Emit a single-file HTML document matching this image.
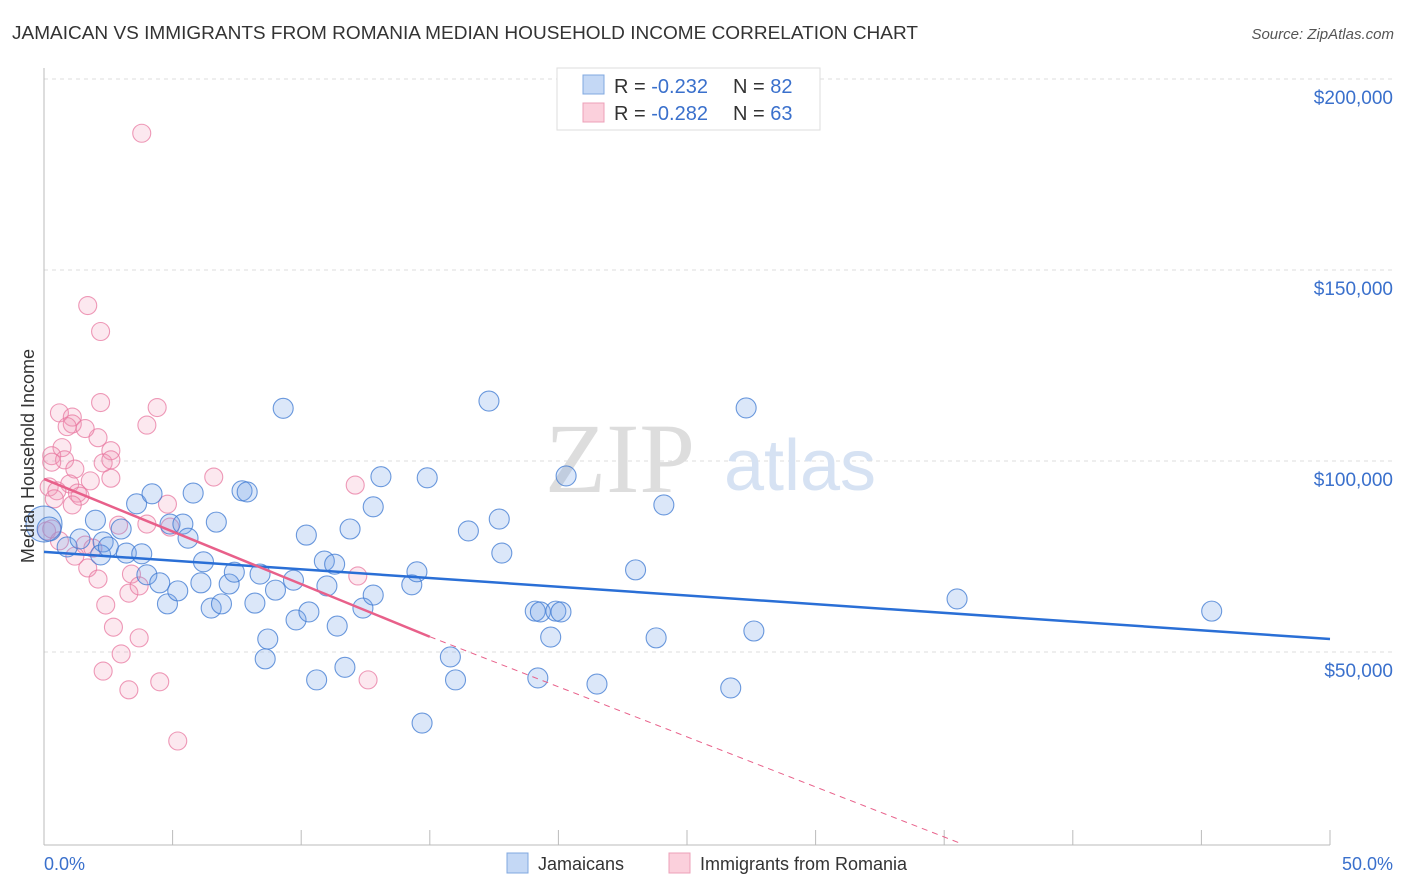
<!DOCTYPE html>
<html><head><meta charset="utf-8"><style>
body{margin:0;background:#fff;font-family:"Liberation Sans",sans-serif;}
svg{display:block}
</style></head><body>
<svg width="1406" height="892">
<text x="12" y="39" font-size="18" fill="#333" textLength="906" lengthAdjust="spacingAndGlyphs">JAMAICAN VS IMMIGRANTS FROM ROMANIA MEDIAN HOUSEHOLD INCOME CORRELATION CHART</text>
<text x="1394" y="39" font-size="15" fill="#555" font-style="italic" text-anchor="end">Source: ZipAtlas.com</text>
<g id="grid"></g>
<line x1="44" y1="68" x2="44" y2="845" stroke="#bbb"/>
<line x1="44" y1="845" x2="1330" y2="845" stroke="#bbb"/>
<text x="620" y="492" font-size="100" fill="#ddd" font-family="Liberation Serif" text-anchor="middle">ZIP</text>
<text x="800" y="490" font-size="72" fill="#d6e2f3" text-anchor="middle">atlas</text>
<g id="ticks"></g>
<g id="pts"></g>
<g id="lines"></g>
<text x="34" y="456" font-size="18" fill="#333" text-anchor="middle" transform="rotate(-90 34 456)">Median Household Income</text>
<text x="44" y="870" font-size="18" fill="#3a70cc">0.0%</text>
<text x="1393" y="870" font-size="18" fill="#3a70cc" text-anchor="end">50.0%</text>
<g>
<rect x="557" y="68" width="263" height="62" fill="#fff" stroke="#ddd"/>
<rect x="583" y="75" width="21" height="19" fill="#c4d8f5" stroke="#80a8e0"/>
<rect x="583" y="103" width="21" height="19" fill="#fbd0dc" stroke="#eda0b8"/>
<text x="614" y="93" font-size="20" fill="#333">R = <tspan fill="#3a70cc">-0.232</tspan><tspan x="733">N = </tspan><tspan fill="#3a70cc">82</tspan></text>
<text x="614" y="120" font-size="20" fill="#333">R = <tspan fill="#3a70cc">-0.282</tspan><tspan x="733">N = </tspan><tspan fill="#3a70cc">63</tspan></text>
</g>
<g>
<rect x="507" y="853" width="21" height="20" fill="#c4d8f5" stroke="#80a8e0"/>
<text x="538" y="870" font-size="18" fill="#333">Jamaicans</text>
<rect x="669" y="853" width="21" height="20" fill="#fbd0dc" stroke="#eda0b8"/>
<text x="700" y="870" font-size="18" fill="#333">Immigrants from Romania</text>
</g>
</svg>
<script>
const yTicks=[50000,100000,150000,200000];
const yTickLabels=["$50,000","$100,000","$150,000","$200,000"];
const xTicks=[0,5,10,15,20,25,30,35,40,45,50];
const jamX=[0,0.2,0.9,2.0,1.4,2.3,2.2,2.5,3.0,3.2,3.8,3.6,4.2,4.0,4.5,4.8,5.2,4.9,5.4,5.6,5.8,6.1,6.2,6.5,6.7,6.9,7.2,7.4,7.7,7.9,8.2,8.4,8.6,8.7,9.0,9.3,9.7,9.8,10.2,10.3,10.6,10.9,11.0,11.3,11.4,11.7,11.9,12.4,12.8,12.8,13.1,14.3,14.5,14.7,14.9,15.8,16.0,16.5,17.3,17.7,17.8,19.1,19.2,19.3,19.7,19.9,20.1,20.3,21.5,23.0,23.8,24.1,26.7,27.3,27.6,35.5,45.4];
const jamY=[83.5,82.2,77.5,84.5,79.6,78.8,75.4,77.5,82.2,75.9,75.7,88.8,91.4,70.2,68.1,62.6,66.0,83.5,83.5,79.8,91.6,68.1,73.6,61.5,84.0,62.6,67.8,70.9,92.2,91.9,62.8,70.4,48.2,53.4,66.2,113.8,68.8,58.4,80.6,60.5,42.7,73.8,67.3,73.0,56.8,46.0,82.2,61.5,64.9,88.0,95.9,67.6,71.0,31.4,95.6,48.7,42.7,81.7,115.7,84.8,75.9,60.7,43.2,60.5,53.9,60.7,60.5,96.1,41.6,71.5,53.7,88.5,40.6,113.9,55.5,63.9,60.7];
const jamR=[18,12,10,10,10,10,10,10,10,10,10,10,10,10,10,10,10,10,10,10,10,10,10,10,10,10,10,10,10,10,10,10,10,10,10,10,10,10,10,10,10,10,10,10,10,10,10,10,10,10,10,10,10,10,10,10,10,10,10,10,10,10,10,10,10,10,10,10,10,10,10,10,10,10,10,10,10];
const romX=[3.8,1.7,2.2,2.2,4.4,0.6,1.1,1.1,0.9,4.0,0.7,0.3,2.6,2.1,1.6,0.8,0.3,2.3,2.6,1.2,6.6,2.6,1.8,0.2,1.0,0.5,1.3,1.4,0.4,1.1,4.8,12.1,2.9,4.0,0.1,0.3,4.9,0.6,1.6,1.9,1.2,1.7,3.4,2.1,3.3,3.7,2.4,2.7,3.0,2.3,3.3,4.5,3.7,12.2,12.6,5.2];
const romY=[185.8,140.7,133.9,115.3,114.0,112.6,111.5,109.7,109.0,109.4,103.5,101.4,102.7,106.1,108.5,100.3,99.7,99.5,100.3,97.9,95.8,95.5,94.8,93.2,94.0,92.2,91.6,90.8,90.1,88.5,88.7,93.7,83.2,83.5,81.7,82.2,82.7,79.1,78.0,77.2,75.1,72.0,70.4,69.1,65.4,67.3,62.3,56.5,49.5,45.0,40.1,42.2,53.7,69.9,42.7,26.7];
const jamFit=[76.2,53.4], romFit=[95.3,54.0], romDashEnd=[35.6,0];
const X=p=>44+p*25.72, Y=v=>843-v*3.82;
const NS="http://www.w3.org/2000/svg";
function mk(tag,parent,attrs){const e=document.createElementNS(NS,tag);for(const k in attrs)e.setAttribute(k,attrs[k]);document.getElementById(parent).appendChild(e);return e;}
yTicks.forEach((t,i)=>{
 const l=mk('line','grid',{x1:44,x2:1394,y1:Y(t/1000),y2:Y(t/1000),stroke:'#ddd','stroke-dasharray':'4,4'});
 
 
 const tx=mk('text','grid',{x:1393,y:Y(t/1000)+25,'font-size':19,fill:'#3a70cc','text-anchor':'end'});
 tx.textContent=yTickLabels[i];
 
 
});
mk('line','grid',{x1:44,x2:1394,y1:79,y2:79,stroke:'#ddd','stroke-dasharray':'4,4'});
xTicks.forEach(t=>{
 const l=mk('line','ticks',{x1:X(t),x2:X(t),y1:830,y2:845,stroke:'#bbb'});
 
 
});
romX.forEach((x,i)=>{
 const c=mk('circle','pts',{cx:X(x),cy:Y(romY[i]),r:9,fill:'rgba(240,150,180,0.22)',stroke:'rgba(232,120,160,0.75)','stroke-width':1.1});
 
 
});
jamX.forEach((x,i)=>{
 const c=mk('circle','pts',{cx:X(x),cy:Y(jamY[i]),r:jamR[i],fill:'rgba(110,160,230,0.25)',stroke:'rgba(60,120,210,0.75)','stroke-width':1.1});
 
 
});
const bl=mk('line','lines',{x1:X(0),y1:Y(jamFit[0]),x2:X(50),y2:Y(jamFit[1]),stroke:'#2a6fd6','stroke-width':2.5});


const pl=mk('line','lines',{x1:X(0),y1:Y(romFit[0]),x2:X(15),y2:Y(romFit[1]),stroke:'#e8608a','stroke-width':2.5});


const pd=mk('line','lines',{x1:X(15),y1:Y(romFit[1]),x2:X(romDashEnd[0]),y2:Y(romDashEnd[1]),stroke:'#e8608a','stroke-width':1,'stroke-dasharray':'6,5'});


</script>
</body></html>
